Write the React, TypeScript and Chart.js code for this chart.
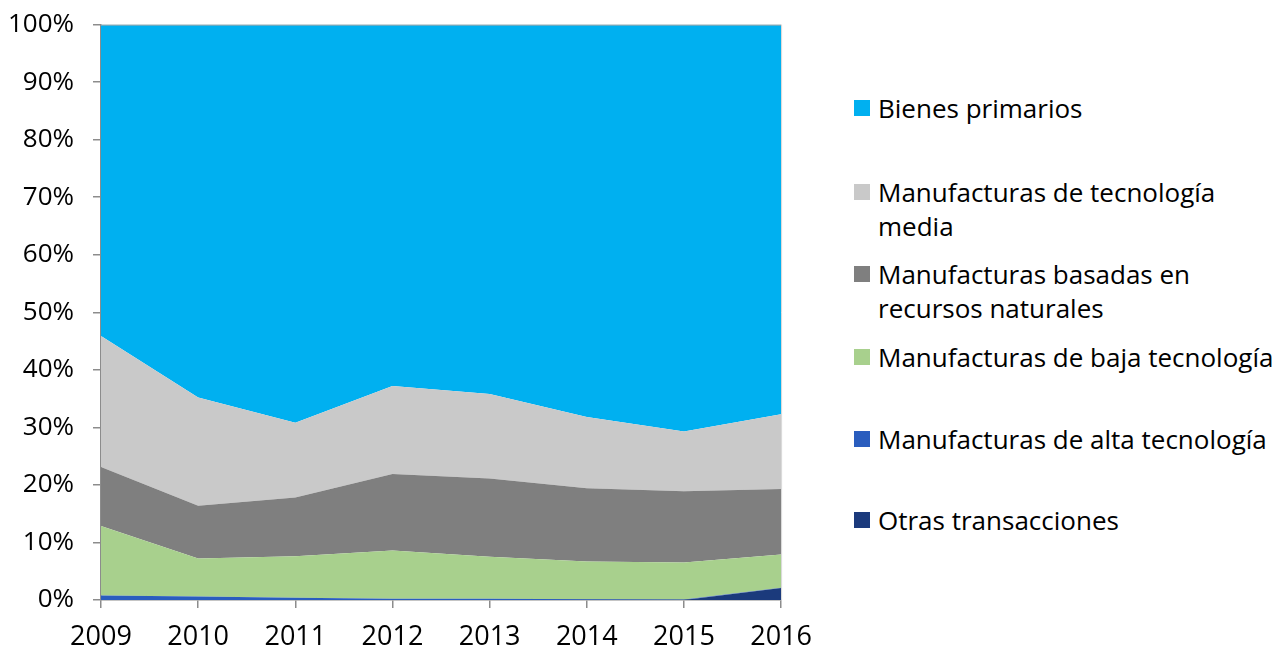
import React, { useEffect, useRef } from "react";
import { Chart, registerables } from "chart.js";

Chart.register(...registerables);

const years = ["2009", "2010", "2011", "2012", "2013", "2014", "2015", "2016"];

// Shares (%) by category, bottom of stack first
const otras = [0, 0, 0, 0, 0, 0, 0, 2.1];
const alta = [0.8, 0.6, 0.4, 0.2, 0.2, 0.15, 0.1, 0.05];
const baja = [12.05, 6.6, 7.2, 8.4, 7.3, 6.55, 6.4, 5.75];
const recursos = [10.25, 9.2, 10.2, 13.3, 13.6, 12.7, 12.4, 11.4];
const media = [22.8, 18.8, 13.0, 15.3, 14.7, 12.4, 10.4, 13.0];
const primarios = [54.1, 64.8, 69.2, 62.8, 64.2, 68.2, 70.7, 67.7];

const yTicks = [0, 10, 20, 30, 40, 50, 60, 70, 80, 90, 100];

const FONT = "'Open Sans', 'Noto Sans', sans-serif";

const series = [
  { label: "Otras transacciones", data: otras, color: "#1B3A7C" },
  { label: "Manufacturas de alta tecnología", data: alta, color: "#2A5DBE" },
  { label: "Manufacturas de baja tecnología", data: baja, color: "#A8D08D" },
  { label: "Manufacturas basadas en recursos naturales", data: recursos, color: "#7F7F7F" },
  { label: "Manufacturas de tecnología media", data: media, color: "#C9C9C9" },
  { label: "Bienes primarios", data: primarios, color: "#00B0F0" },
];

const legendItems = [
  { lines: ["Bienes primarios"], color: "#00B0F0", top: 108 },
  { lines: ["Manufacturas de tecnología", "media"], color: "#C9C9C9", top: 192 },
  { lines: ["Manufacturas basadas en", "recursos naturales"], color: "#7F7F7F", top: 274 },
  { lines: ["Manufacturas de baja tecnología"], color: "#A8D08D", top: 357 },
  { lines: ["Manufacturas de alta tecnología"], color: "#2A5DBE", top: 439 },
  { lines: ["Otras transacciones"], color: "#1B3A7C", top: 520 },
];

const framePlugin = {
  id: "frame",
  afterDatasetsDraw(chart: any) {
    const { ctx, chartArea } = chart;
    ctx.save();
    ctx.strokeStyle = "#d6d6d6";
    ctx.lineWidth = 1;
    ctx.beginPath();
    ctx.moveTo(chartArea.right + 0.5, chartArea.top);
    ctx.lineTo(chartArea.right + 0.5, chartArea.bottom);
    ctx.stroke();
    ctx.strokeStyle = "#a8a8a8";
    ctx.beginPath();
    ctx.moveTo(chartArea.left, chartArea.top + 0.5);
    ctx.lineTo(chartArea.right, chartArea.top + 0.5);
    ctx.stroke();
    ctx.restore();
  },
};

export default function App() {
  const ref = useRef<HTMLCanvasElement | null>(null);

  useEffect(() => {
    if (!ref.current) return;
    const chart = new Chart(ref.current, {
      type: "line",
      data: {
        labels: years,
        datasets: series.map((s, i) => ({
          label: s.label,
          data: s.data,
          backgroundColor: s.color,
          borderColor: s.color,
          borderWidth: 0,
          pointRadius: 0,
          tension: 0,
          fill: i === 0 ? "origin" : "-1",
        })),
      },
      options: {
        animation: false,
        responsive: false,
        maintainAspectRatio: false,
        layout: { padding: { top: 14, right: 39, bottom: 0, left: 0 } },
        plugins: { legend: { display: false }, tooltip: { enabled: false } },
        scales: {
          x: {
            offset: false,
            grid: {
              display: true,
              drawOnChartArea: false,
              drawTicks: true,
              tickLength: 8,
              color: "#8c8c8c",
              lineWidth: 1.5,
            },
            border: { color: "#8c8c8c", width: 1.5 },
            ticks: {
              color: "#000",
              font: { family: FONT, size: 27 },
              padding: 13,
              maxRotation: 0,
              autoSkip: false,
            },
            afterFit(scale: any) {
              scale.height = 48;
            },
          },
          y: {
            stacked: true,
            min: 0,
            max: 100,
            afterBuildTicks(scale: any) {
              scale.ticks = yTicks.map((v) => ({ value: v }));
            },
            grid: {
              display: true,
              drawOnChartArea: false,
              drawTicks: true,
              tickLength: 8,
              color: "#8c8c8c",
              lineWidth: 1.5,
            },
            border: { color: "#8c8c8c", width: 1.5 },
            ticks: {
              color: "#000",
              font: { family: FONT, size: 26 },
              padding: 19,
              callback: (v: any) => v + "%",
            },
            afterFit(scale: any) {
              scale.width = 101;
            },
          },
        },
      },
      plugins: [framePlugin],
    });
    return () => chart.destroy();
  }, []);

  return (
    <div style={{ position: "absolute", left: 0, top: 0, width: 1282, height: 648, background: "#fff", overflow: "hidden" }}>
      <canvas ref={ref} width={825} height={658} style={{ position: "absolute", left: 0, top: -10, width: 825, height: 658 }} />
      {legendItems.map((it) => (
        <div key={it.lines[0]} style={{ position: "absolute", left: 854, top: it.top - 17, fontFamily: FONT, fontSize: 26, lineHeight: "34px", color: "#000", whiteSpace: "nowrap" }}>
          <span style={{ position: "absolute", left: 0, top: 9, width: 16, height: 16, background: it.color }} />
          <div style={{ marginLeft: 24 }}>
            {it.lines.map((l, j) => (
              <div key={j}>{l}</div>
            ))}
          </div>
        </div>
      ))}
    </div>
  );
}
